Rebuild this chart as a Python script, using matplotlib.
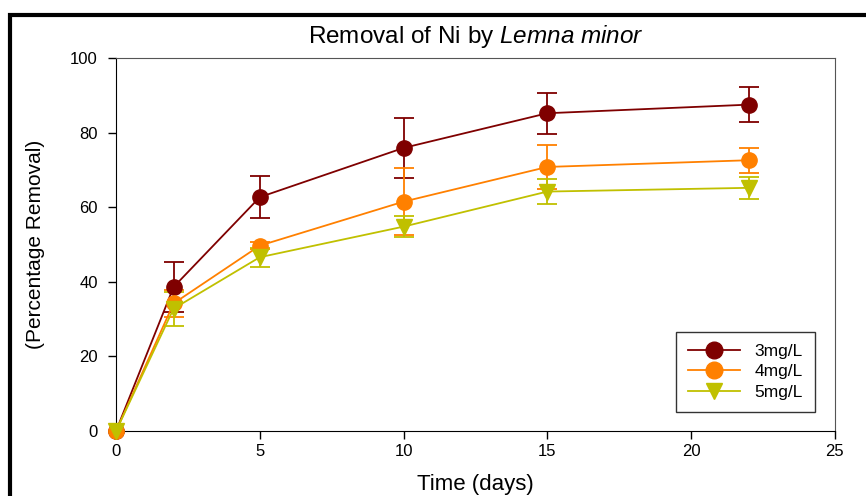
import matplotlib.pyplot as plt
from matplotlib.patches import Rectangle
from matplotlib.lines import Line2D

days = [0, 2, 5, 10, 15, 22]

ni_3 = [0, 38.6, 62.7, 75.9, 85.2, 87.5]
err_3 = [0, 6.8, 5.7, 8.0, 5.5, 4.6]
ni_4 = [0, 34.2, 49.7, 61.5, 70.8, 72.6]
err_4 = [0, 3.7, 1.0, 9.0, 6.0, 3.3]
ni_5 = [0, 32.8, 46.6, 54.8, 64.2, 65.2]
err_5 = [0, 4.6, 2.5, 2.8, 3.3, 3.0]

labels = ['3mg/L', '4mg/L', '5mg/L']

plt.rcParams['font.family'] = ['Liberation Sans', 'DejaVu Sans']
plt.rcParams['mathtext.fontset'] = 'custom'
plt.rcParams['mathtext.rm'] = 'Liberation Sans'
plt.rcParams['mathtext.it'] = 'Liberation Sans:italic'

fig = plt.figure(figsize=(8.66, 4.96), dpi=100)
ax = fig.add_axes([0.134, 0.131, 0.830, 0.752])

# black frame round the whole picture
fig.patches.append(Rectangle((10 / 866, -0.1), 1.2, 1 - 15 / 496 + 0.1,
                             transform=fig.transFigure, fill=False,
                             edgecolor='black', linewidth=3))

series = [(ni_3, err_3, '#7f0000', 'o'),
          (ni_4, err_4, '#ff8000', 'o'),
          (ni_5, err_5, '#c0c000', 'v')]
handles = []
for (vals, errs, col, mk), lab in zip(series, labels):
    ax.errorbar(days[1:], vals[1:], yerr=errs[1:], color=col, fmt='none',
                elinewidth=1.3, capsize=7, capthick=1.3)
    ax.plot(days, vals, color=col, marker=mk, markersize=11,
            linewidth=1.3, clip_on=False, zorder=3)
    handles.append(Line2D([], [], color=col, marker=mk, markersize=12,
                          linewidth=1.3, label=lab))

ax.set_xlim(0, 25)
ax.set_ylim(0, 100)
ax.set_xticks([0, 5, 10, 15, 20, 25])
ax.set_yticks([0, 20, 40, 60, 80, 100])
ax.tick_params(direction='out', length=6, labelsize=12, width=1)
ax.tick_params(axis='y', pad=7)
for s in ['top', 'right']:
    ax.spines[s].set_color('#555555')

ax.set_title('Removal of Ni by $\\it{Lemna\\ minor}$', fontsize=17.5, pad=11)
ax.set_xlabel('Time (days)', fontsize=16, labelpad=11)
ax.set_ylabel('(Percentage Removal)', fontsize=15, labelpad=18,
              family=['Liberation Sans Narrow', 'Liberation Sans'])

leg = ax.legend(handles=handles, loc='lower right',
                bbox_to_anchor=(0.972, 0.051), borderaxespad=0,
                fontsize=12.5, frameon=True, fancybox=False,
                edgecolor='black', borderpad=0.7, handlelength=3,
                labelspacing=0.3)
leg.get_frame().set_linewidth(1)

fig.savefig('out.png', dpi=100)
